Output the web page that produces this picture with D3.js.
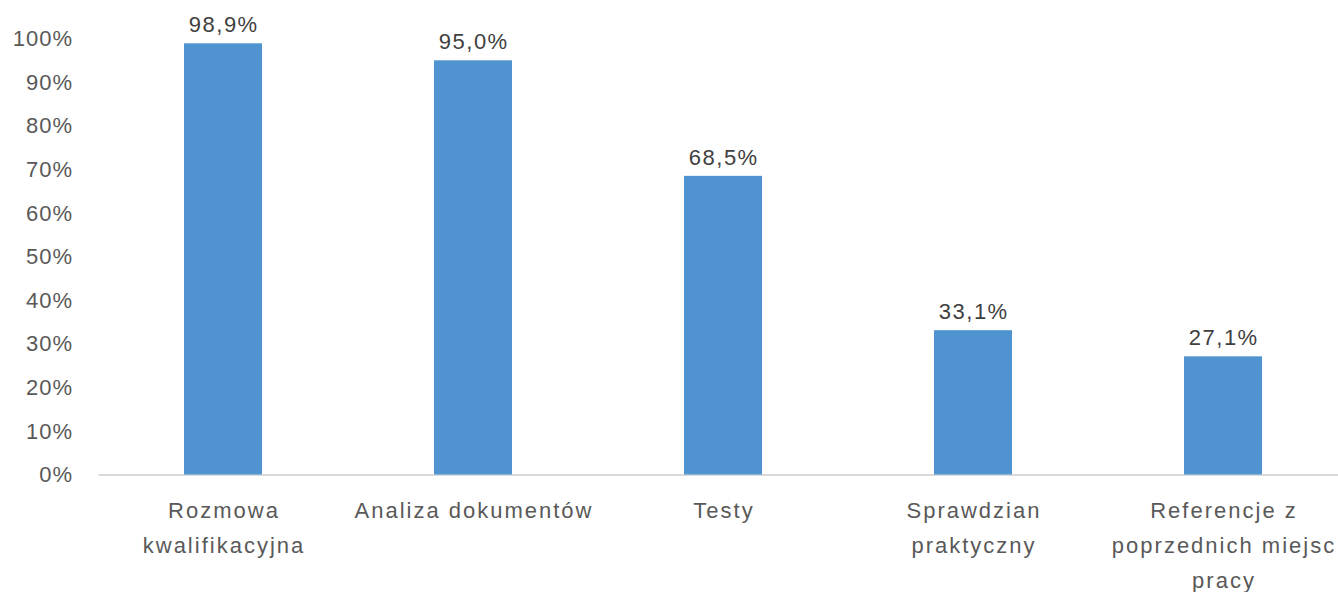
<!DOCTYPE html>
<html><head><meta charset="utf-8">
<script src="https://cdn.jsdelivr.net/npm/d3@7"></script>
<style>body{margin:0;background:#fff;}svg{display:block;}</style>
</head><body>
<svg id="c" width="1338" height="592"></svg>
<script>
const categories = [["Rozmowa","kwalifikacyjna"],["Analiza dokumentów"],["Testy"],["Sprawdzian","praktyczny"],["Referencje z","poprzednich miejsc","pracy"]];
const values = [98.9, 95.0, 68.5, 33.1, 27.1];
const valueLabels = ["98,9%","95,0%","68,5%","33,1%","27,1%"];
const yTicks = [0,10,20,30,40,50,60,70,80,90,100];

const svg = d3.select("#c");
const font = "'Liberation Sans', Arial, sans-serif";
const ids = categories.map((c,i)=>i);
const x = d3.scaleBand().domain(ids).range([98,1348]).paddingInner(0.688).paddingOuter(0.344);
const y = d3.scaleLinear().domain([0,100]).range([474.5,38.5]);

// y axis labels
const ya = svg.append("g").attr("transform","translate(73,0)")
  .call(d3.axisLeft(y).tickValues(yTicks).tickFormat(d=>d+"%").tickSize(0).tickPadding(0));
ya.select(".domain").remove();
ya.selectAll("text").attr("font-family",font).attr("font-size",22).attr("fill","#595959")
  .attr("letter-spacing","1px").attr("dy","0.33em");

// baseline
const xa = svg.append("g").attr("transform",`translate(0,${y(0)})`)
  .call(d3.axisBottom(x).tickSize(0).tickFormat(""));
xa.select(".domain").attr("stroke","#d9d9d9").attr("stroke-width",2);

// bars
svg.append("g").selectAll("rect").data(values).join("rect")
  .attr("x",(d,i)=>x(i)).attr("width",x.bandwidth())
  .attr("y",d=>y(d)).attr("height",d=>y(0)-y(d))
  .attr("fill","#4f94d0");

// value labels
svg.append("g").selectAll("text").data(values).join("text")
  .attr("x",(d,i)=>x(i)+x.bandwidth()/2+0.75).attr("y",d=>y(d)-11)
  .attr("text-anchor","middle").attr("font-family",font).attr("font-size",22).attr("fill","#404040")
  .attr("letter-spacing","1.5px")
  .text((d,i)=>valueLabels[i]);

// category labels
const cg = svg.append("g");
categories.forEach((lines,i)=>{
  const t = cg.append("text").attr("text-anchor","middle").attr("font-family",font).attr("font-size",22)
    .attr("fill","#595959").attr("letter-spacing","2px");
  lines.forEach((l,j)=>{
    t.append("tspan").attr("x",x(i)+x.bandwidth()/2+1).attr("y",518+j*35).text(l);
  });
});
</script>
</body></html>
